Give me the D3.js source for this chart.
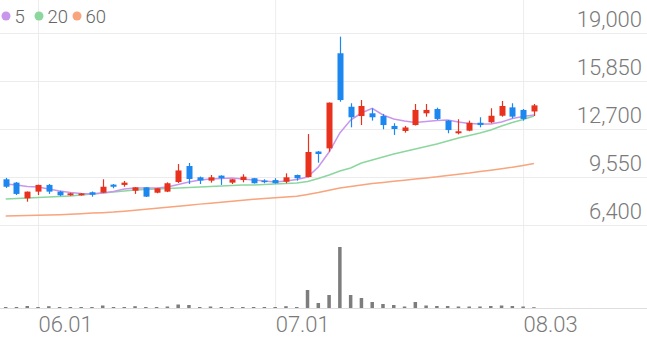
<!DOCTYPE html>
<html><head><meta charset="utf-8">
<script src="https://cdn.jsdelivr.net/npm/d3@7"></script>
<style>
html,body{margin:0;padding:0;background:#fff;}
svg{display:block;font-family:Roboto,"Noto Sans",sans-serif;}
</style></head>
<body>
<svg id="chart" width="647" height="337"></svg>
<script>
// ---- data ----
const dates = [
"2021-05-27","2021-05-28","2021-05-31",
"2021-06-01","2021-06-02","2021-06-03","2021-06-04","2021-06-07","2021-06-08","2021-06-09","2021-06-10","2021-06-11",
"2021-06-14","2021-06-15","2021-06-16","2021-06-17","2021-06-18","2021-06-21","2021-06-22","2021-06-23","2021-06-24","2021-06-25",
"2021-06-28","2021-06-29","2021-06-30",
"2021-07-01","2021-07-02","2021-07-05","2021-07-06","2021-07-07","2021-07-08","2021-07-09",
"2021-07-12","2021-07-13","2021-07-14","2021-07-15","2021-07-16","2021-07-19","2021-07-20","2021-07-21","2021-07-22","2021-07-23",
"2021-07-26","2021-07-27","2021-07-28","2021-07-29","2021-07-30",
"2021-08-02","2021-08-03","2021-08-04"];
const openP  = [9400,9180,8150,8590,9030,8590,8350,8350,8550,8520,9050,9030,8650,8870,8520,8590,9220,10270,9530,9310,9640,9180,9350,9470,9310,9350,9240,9680,9550,11220,11430,17670,14160,13550,13730,13550,12900,12570,12960,13730,14010,13250,12420,12590,13110,13140,13570,14120,13950,13850];
const highP  = [9490,9220,8600,9050,9090,8650,8520,8500,8600,9400,9090,9290,8890,8890,8830,9200,10400,10470,9580,9680,9660,9420,9730,9490,9400,9470,9790,9710,12370,11260,14440,18760,14390,14600,14060,13690,13080,12900,14340,14340,14100,13290,13340,13250,13470,14060,14540,14390,14010,14340];
const lowP   = [8830,8370,7930,8370,8440,8300,8320,8330,8260,8500,8810,8910,8440,8240,8480,8560,9160,9090,9090,9180,9030,9090,9200,9120,9140,9120,9140,9310,9520,10490,11210,14490,12810,12960,13250,12680,12310,12460,12930,13510,13290,12420,12350,12550,12810,13080,13510,13400,13250,13550];
const closeP = [8910,8440,8590,9030,8590,8350,8480,8470,8390,8910,8910,9180,8870,8260,8810,9140,9980,9420,9320,9530,9470,9400,9570,9140,9220,9140,9530,9470,11190,11060,14430,14600,13470,14210,13470,12960,12700,12800,13950,13950,13360,12630,12550,13110,12960,13570,14210,13510,13360,14250];
const volume = [100,100,200,100,180,100,100,100,100,250,100,100,180,100,100,150,350,300,100,150,100,100,100,100,100,100,180,100,1800,500,1300,6100,1300,1000,600,400,300,150,600,250,200,200,150,150,150,200,250,200,150,80];
const ma5  = [9090,9025,8930,8890,8760,8630,8530,8470,8440,8500,8600,8760,8830,8830,8830,8890,9060,9220,9350,9420,9450,9490,9420,9350,9290,9220,9290,9390,9550,10210,11190,12440,13290,13750,14050,13620,13360,13230,13130,13190,13260,13290,13160,13060,13030,13030,13160,13390,13520,13620];
const ma20 = [8110,8140,8170,8200,8240,8270,8300,8370,8440,8500,8570,8630,8700,8730,8760,8800,8830,8860,8890,8930,8960,8990,9030,9030,9060,9090,9120,9160,9260,9450,9680,9940,10140,10470,10670,10860,11060,11220,11390,11550,11720,11910,12110,12270,12440,12630,12900,13130,13320,13550];
const ma60 = [6990,7000,7020,7040,7060,7080,7110,7140,7180,7210,7250,7310,7370,7430,7500,7570,7630,7700,7770,7830,7900,7960,8020,8090,8140,8190,8230,8280,8400,8530,8680,8830,8930,9030,9120,9190,9270,9340,9420,9490,9560,9650,9730,9810,9910,10000,10090,10190,10310,10440];
const priceTicks = [6400,9550,12700,15850,19000];
const dateTicks = ["2021-06-01","2021-07-01","2021-08-03"];
const legendItems = ["5","20","60"];

// ---- styles ----
const W = 647, H = 337;
const UP = "#e8321e", DOWN = "#1d87f0";
const maColors = ["#c996ec","#8cd79e","#f8a47c"];
const gridColor = "#ececec";

const svg = d3.select("#chart");
const x = d3.scalePoint().domain(dates).range([5.7, 533.9]);
const y = d3.scaleLinear().domain([6400,19000]).range([225,33]);
const yv = d3.scaleLinear().domain([0, d3.max(volume)]).range([308, 247]);

// horizontal grid
svg.append("g")
  .call(d3.axisRight(y).tickValues(priceTicks).tickSize(W).tickFormat(""))
  .call(g=>g.select(".domain").remove())
  .call(g=>g.selectAll("line").attr("stroke",gridColor));

// vertical grid
svg.append("g")
  .call(d3.axisBottom(x).tickValues(dateTicks).tickSize(308).tickFormat(""))
  .call(g=>g.select(".domain").remove())
  .call(g=>g.selectAll("line").attr("stroke",gridColor));

// volume baseline
svg.append("line").attr("x1",0).attr("x2",W).attr("y1",yv(0)+0.5).attr("y2",yv(0)+0.5)
  .attr("stroke","#dedede");

// price labels
svg.append("g").attr("transform","translate(642,0)")
  .call(d3.axisLeft(y).tickValues(priceTicks).tickSize(0).tickPadding(0).tickFormat(d3.format(",")))
  .call(g=>g.select(".domain").remove())
  .call(g=>g.selectAll("text").attr("dy",-7).attr("dominant-baseline","auto")
     .attr("font-size",22).attr("fill","#7a7a7a").attr("font-family","Roboto").attr("font-weight",300));

// date labels
svg.append("g").attr("transform","translate(0,332)")
  .call(d3.axisBottom(x).tickValues(dateTicks).tickSize(0).tickPadding(0)
     .tickFormat(d=>d.slice(5,7)+"."+d.slice(8,10)))
  .call(g=>g.select(".domain").remove())
  .call(g=>g.selectAll("text").attr("text-anchor","start").attr("dy",0).attr("y",0)
     .attr("font-size",22).attr("fill","#7a7a7a").attr("font-family","Roboto").attr("font-weight",300));

// volume bars
svg.append("g").selectAll("rect").data(dates).join("rect")
  .attr("x",d=>x(d)-1.75).attr("width",3.5)
  .attr("y",(d,i)=>yv(volume[i])).attr("height",(d,i)=>yv(0)-yv(volume[i]))
  .attr("fill","#7d7d7d");

// MA lines
[ma60, ma20, ma5].forEach((arr,k)=>{
  const col = maColors[2-k];
  svg.append("path").datum(arr)
    .attr("d", d3.line().x((v,i)=>x(dates[i])).y(v=>y(v)))
    .attr("fill","none").attr("stroke",col).attr("stroke-width",1.5);
});

// candles
const cg = svg.append("g");
dates.forEach((d,i)=>{
  const up = closeP[i] >= openP[i];
  const col = up ? UP : DOWN;
  const cx = Math.round(x(d));
  cg.append("line").attr("x1",cx+0.5).attr("x2",cx+0.5)
    .attr("y1",y(highP[i])).attr("y2",y(lowP[i])).attr("stroke",col).attr("stroke-width",1.2);
  const top = y(Math.max(openP[i],closeP[i])), bot = y(Math.min(openP[i],closeP[i]));
  cg.append("rect").attr("x",cx-2.5).attr("width",6)
    .attr("y",top).attr("height",Math.max(1.5,bot-top)).attr("fill",col);
});

// legend
const lg = svg.append("g");
const lx = [6, 39, 77];
legendItems.forEach((t,i)=>{
  lg.append("circle").attr("cx",lx[i]).attr("cy",16).attr("r",4.5).attr("fill",maColors[i]);
  lg.append("text").attr("x",lx[i]+8.5).attr("y",22.5).attr("font-size",18.5)
    .attr("fill","#666").attr("font-family","Roboto").attr("font-weight",300).text(t);
});
</script>
</body></html>
